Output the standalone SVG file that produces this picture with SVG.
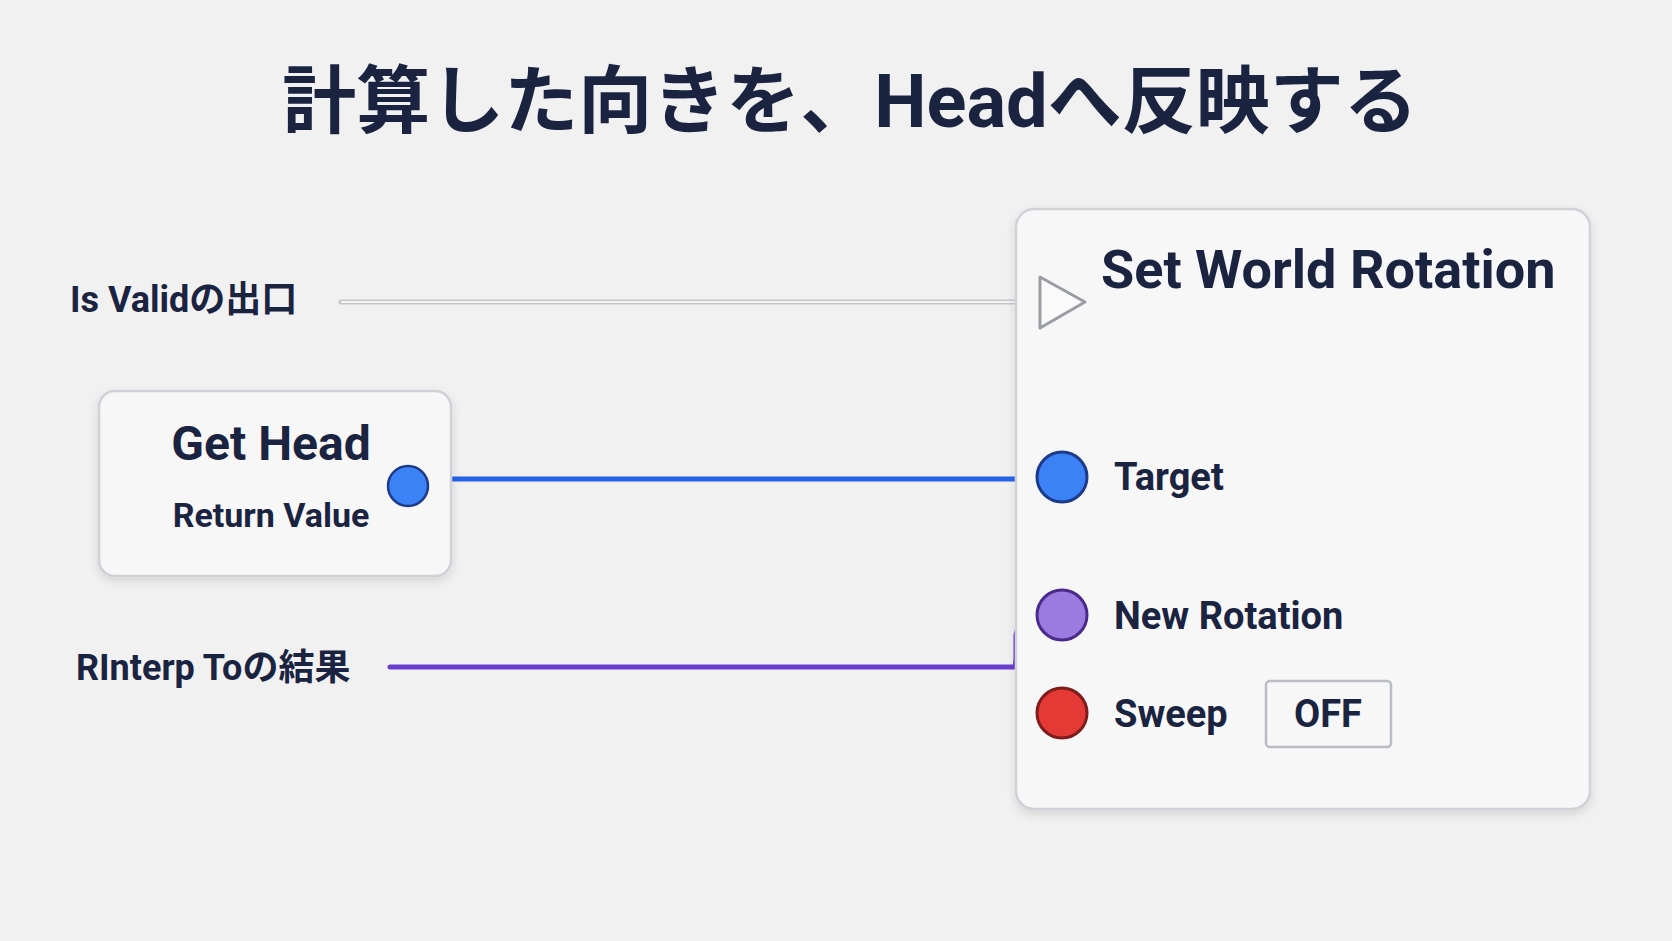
<svg xmlns="http://www.w3.org/2000/svg" width="1672" height="941" viewBox="0 0 1672 941">
<defs>
<style>
.t{font-family:"Roboto","Noto Sans CJK JP",sans-serif;fill:#1a2340;font-weight:700}
.node{fill:#f7f7f8;stroke:#cfd1d6;stroke-width:2.5}
</style>
<filter id="sh" x="-10%" y="-10%" width="120%" height="125%"><feDropShadow dx="0" dy="4" stdDeviation="5" flood-color="#000" flood-opacity="0.12"/></filter>
</defs>
<rect width="1672" height="941" fill="#f1f1f2"/>
<text class="t" x="850" y="127" text-anchor="middle" font-size="74">計算した向きを、Headへ反映する</text>
<g id="connectors" fill="none">
<line x1="341" y1="302" x2="1016" y2="302" stroke="#c4c6ca" stroke-width="5" stroke-linecap="round"/>
<line x1="341" y1="302" x2="1016" y2="302" stroke="#f4f4f5" stroke-width="2"/>
<path d="M426 484 Q432 479 445 479 L1040 479" stroke="#2563eb" stroke-width="5"/>
<path d="M390 667 L1014 667 Q1016 667 1016 655 L1016 635 Q1018 620 1040 615" stroke="#6a3fd0" stroke-width="5" stroke-linecap="round"/>
</g>
<g id="label-isvalid"><text class="t" x="70" y="312" font-size="36">Is Validの出口</text></g>
<g id="label-rinterp"><text class="t" x="76" y="680" font-size="36">RInterp Toの結果</text></g>
<g id="get-head">
<rect class="node" x="99" y="391" width="352" height="185" rx="16" filter="url(#sh)"/>
<text class="t" x="271" y="460" text-anchor="middle" font-size="48">Get Head</text>
<text class="t" x="271" y="527" text-anchor="middle" font-size="34">Return Value</text>
<circle cx="408" cy="486" r="20" fill="#3b82f6" stroke="#1e3a8a" stroke-width="2.5"/>
</g>
<g id="set-world-rotation">
<rect class="node" x="1016" y="209" width="574" height="600" rx="18" filter="url(#sh)"/>
<text class="t" x="1101" y="288" font-size="54">Set World Rotation</text>
<path d="M1040 277 L1085 302 L1040 328 Z" fill="#fafafa" stroke="#9a9da3" stroke-width="3" stroke-linejoin="round"/>
<circle cx="1062" cy="477" r="25" fill="#3b82f6" stroke="#1e3a8a" stroke-width="3"/>
<text class="t" x="1114" y="490" font-size="38">Target</text>
<circle cx="1062" cy="615" r="25" fill="#9b7be0" stroke="#4a2a8a" stroke-width="3"/>
<text class="t" x="1114" y="629" font-size="38">New Rotation</text>
<circle cx="1062" cy="713" r="25" fill="#e53935" stroke="#7f1d1d" stroke-width="3"/>
<text class="t" x="1114" y="727" font-size="38">Sweep</text>
<rect x="1266" y="681" width="125" height="66" rx="4" fill="#f7f7f8" stroke="#b9bcc2" stroke-width="2.5"/>
<text class="t" x="1328" y="727" text-anchor="middle" font-size="38">OFF</text>
</g>
</svg>
